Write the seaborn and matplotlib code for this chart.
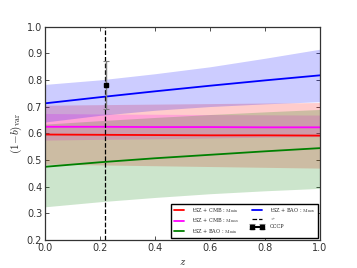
import matplotlib
matplotlib.use("Agg")
import matplotlib.pyplot as plt
import pandas as pd
import seaborn as sns

# redshift grid
z = [0.0, 0.2, 0.4, 0.6, 0.8, 1.0]

# tSZ + CMB : M_min (red)
cmb_min = [0.596, 0.595, 0.594, 0.593, 0.593, 0.592]
cmb_min_lo = [0.485, 0.482, 0.479, 0.476, 0.473, 0.470]
cmb_min_hi = [0.706, 0.708, 0.710, 0.712, 0.714, 0.716]

# tSZ + CMB : M_max (magenta)
cmb_max = [0.625, 0.625, 0.624, 0.624, 0.623, 0.623]
cmb_max_lo = [0.575, 0.578, 0.580, 0.583, 0.586, 0.588]
cmb_max_hi = [0.675, 0.673, 0.672, 0.671, 0.670, 0.669]

# tSZ + BAO : M_min (green)
bao_min = [0.475, 0.492, 0.507, 0.520, 0.533, 0.545]
bao_min_lo = [0.325, 0.344, 0.360, 0.374, 0.385, 0.394]
bao_min_hi = [0.635, 0.648, 0.660, 0.671, 0.681, 0.690]

# tSZ + BAO : M_max (blue)
bao_max = [0.713, 0.736, 0.758, 0.779, 0.799, 0.818]
bao_max_lo = [0.643, 0.668, 0.687, 0.701, 0.711, 0.719]
bao_max_hi = [0.784, 0.801, 0.824, 0.850, 0.882, 0.916]

z_star = 0.22

# CCCP point
cccp_z = [0.223]
cccp_val = [0.78]
cccp_err = [0.09]

series = [
    ("tSZ + CMB : $\\mathrm{M_{min}}$", cmb_min, cmb_min_lo, cmb_min_hi, "red"),
    ("tSZ + CMB : $\\mathrm{M_{max}}$", cmb_max, cmb_max_lo, cmb_max_hi, "magenta"),
    ("tSZ + BAO : $\\mathrm{M_{min}}$", bao_min, bao_min_lo, bao_min_hi, "green"),
    ("tSZ + BAO : $\\mathrm{M_{max}}$", bao_max, bao_max_lo, bao_max_hi, "blue"),
]

sns.set_style("ticks")
plt.rcParams["mathtext.fontset"] = "cm"
plt.rcParams["font.family"] = ["DejaVu Serif"]

fig = plt.figure(figsize=(3.57, 2.68), dpi=100)
ax = fig.add_axes([0.126, 0.104, 0.77, 0.796])

for label, mid, lo, hi, color in series:
    ax.fill_between(z, lo, hi, color=color, alpha=0.2, linewidth=0)

for label, mid, lo, hi, color in series:
    df = pd.DataFrame({"z": z, "val": mid})
    sns.lineplot(data=df, x="z", y="val", color=color, linewidth=1.3, ax=ax, label=label)

ax.axvline(z_star, color="black", linestyle="--", linewidth=0.9, label="$z_*$")
ax.errorbar(cccp_z, cccp_val, yerr=cccp_err, fmt="s-", color="black", ecolor="gray",
            markersize=3.5, elinewidth=1.0, capsize=2, capthick=0.8, label="CCCP")

ax.set_xlim(0, 1)
ax.set_ylim(0.2, 1.0)
ax.set_xticks([0.0, 0.2, 0.4, 0.6, 0.8, 1.0])
ax.set_yticks([0.2, 0.3, 0.4, 0.5, 0.6, 0.7, 0.8, 0.9, 1.0])
ax.set_xticklabels(["0.0", "0.2", "0.4", "0.6", "0.8", "1.0"], family="DejaVu Sans")
ax.set_yticklabels(["0.2", "0.3", "0.4", "0.5", "0.6", "0.7", "0.8", "0.9", "1.0"],
                   family="DejaVu Sans")
ax.tick_params(direction="in", top=True, right=True, labelsize=7, length=3, width=0.6,
               pad=2, colors="#333333")
for sp in ax.spines.values():
    sp.set_color("#333333")
    sp.set_linewidth(0.9)

ax.set_xlabel("$z$", fontsize=8, labelpad=3)
ax.set_ylabel("$(1\\!-\\!b)_{\\rm var}$", fontsize=8, labelpad=2)

ax.legend(loc="lower right", ncol=2, fontsize=3.6, frameon=True, fancybox=False,
          edgecolor="black", framealpha=1, handlelength=2.6, handletextpad=1.2,
          columnspacing=2.4, borderpad=0.45, labelspacing=0.3, numpoints=2,
          bbox_to_anchor=(0.993, 0.01), borderaxespad=0)

fig.savefig("out.png", dpi=100)
